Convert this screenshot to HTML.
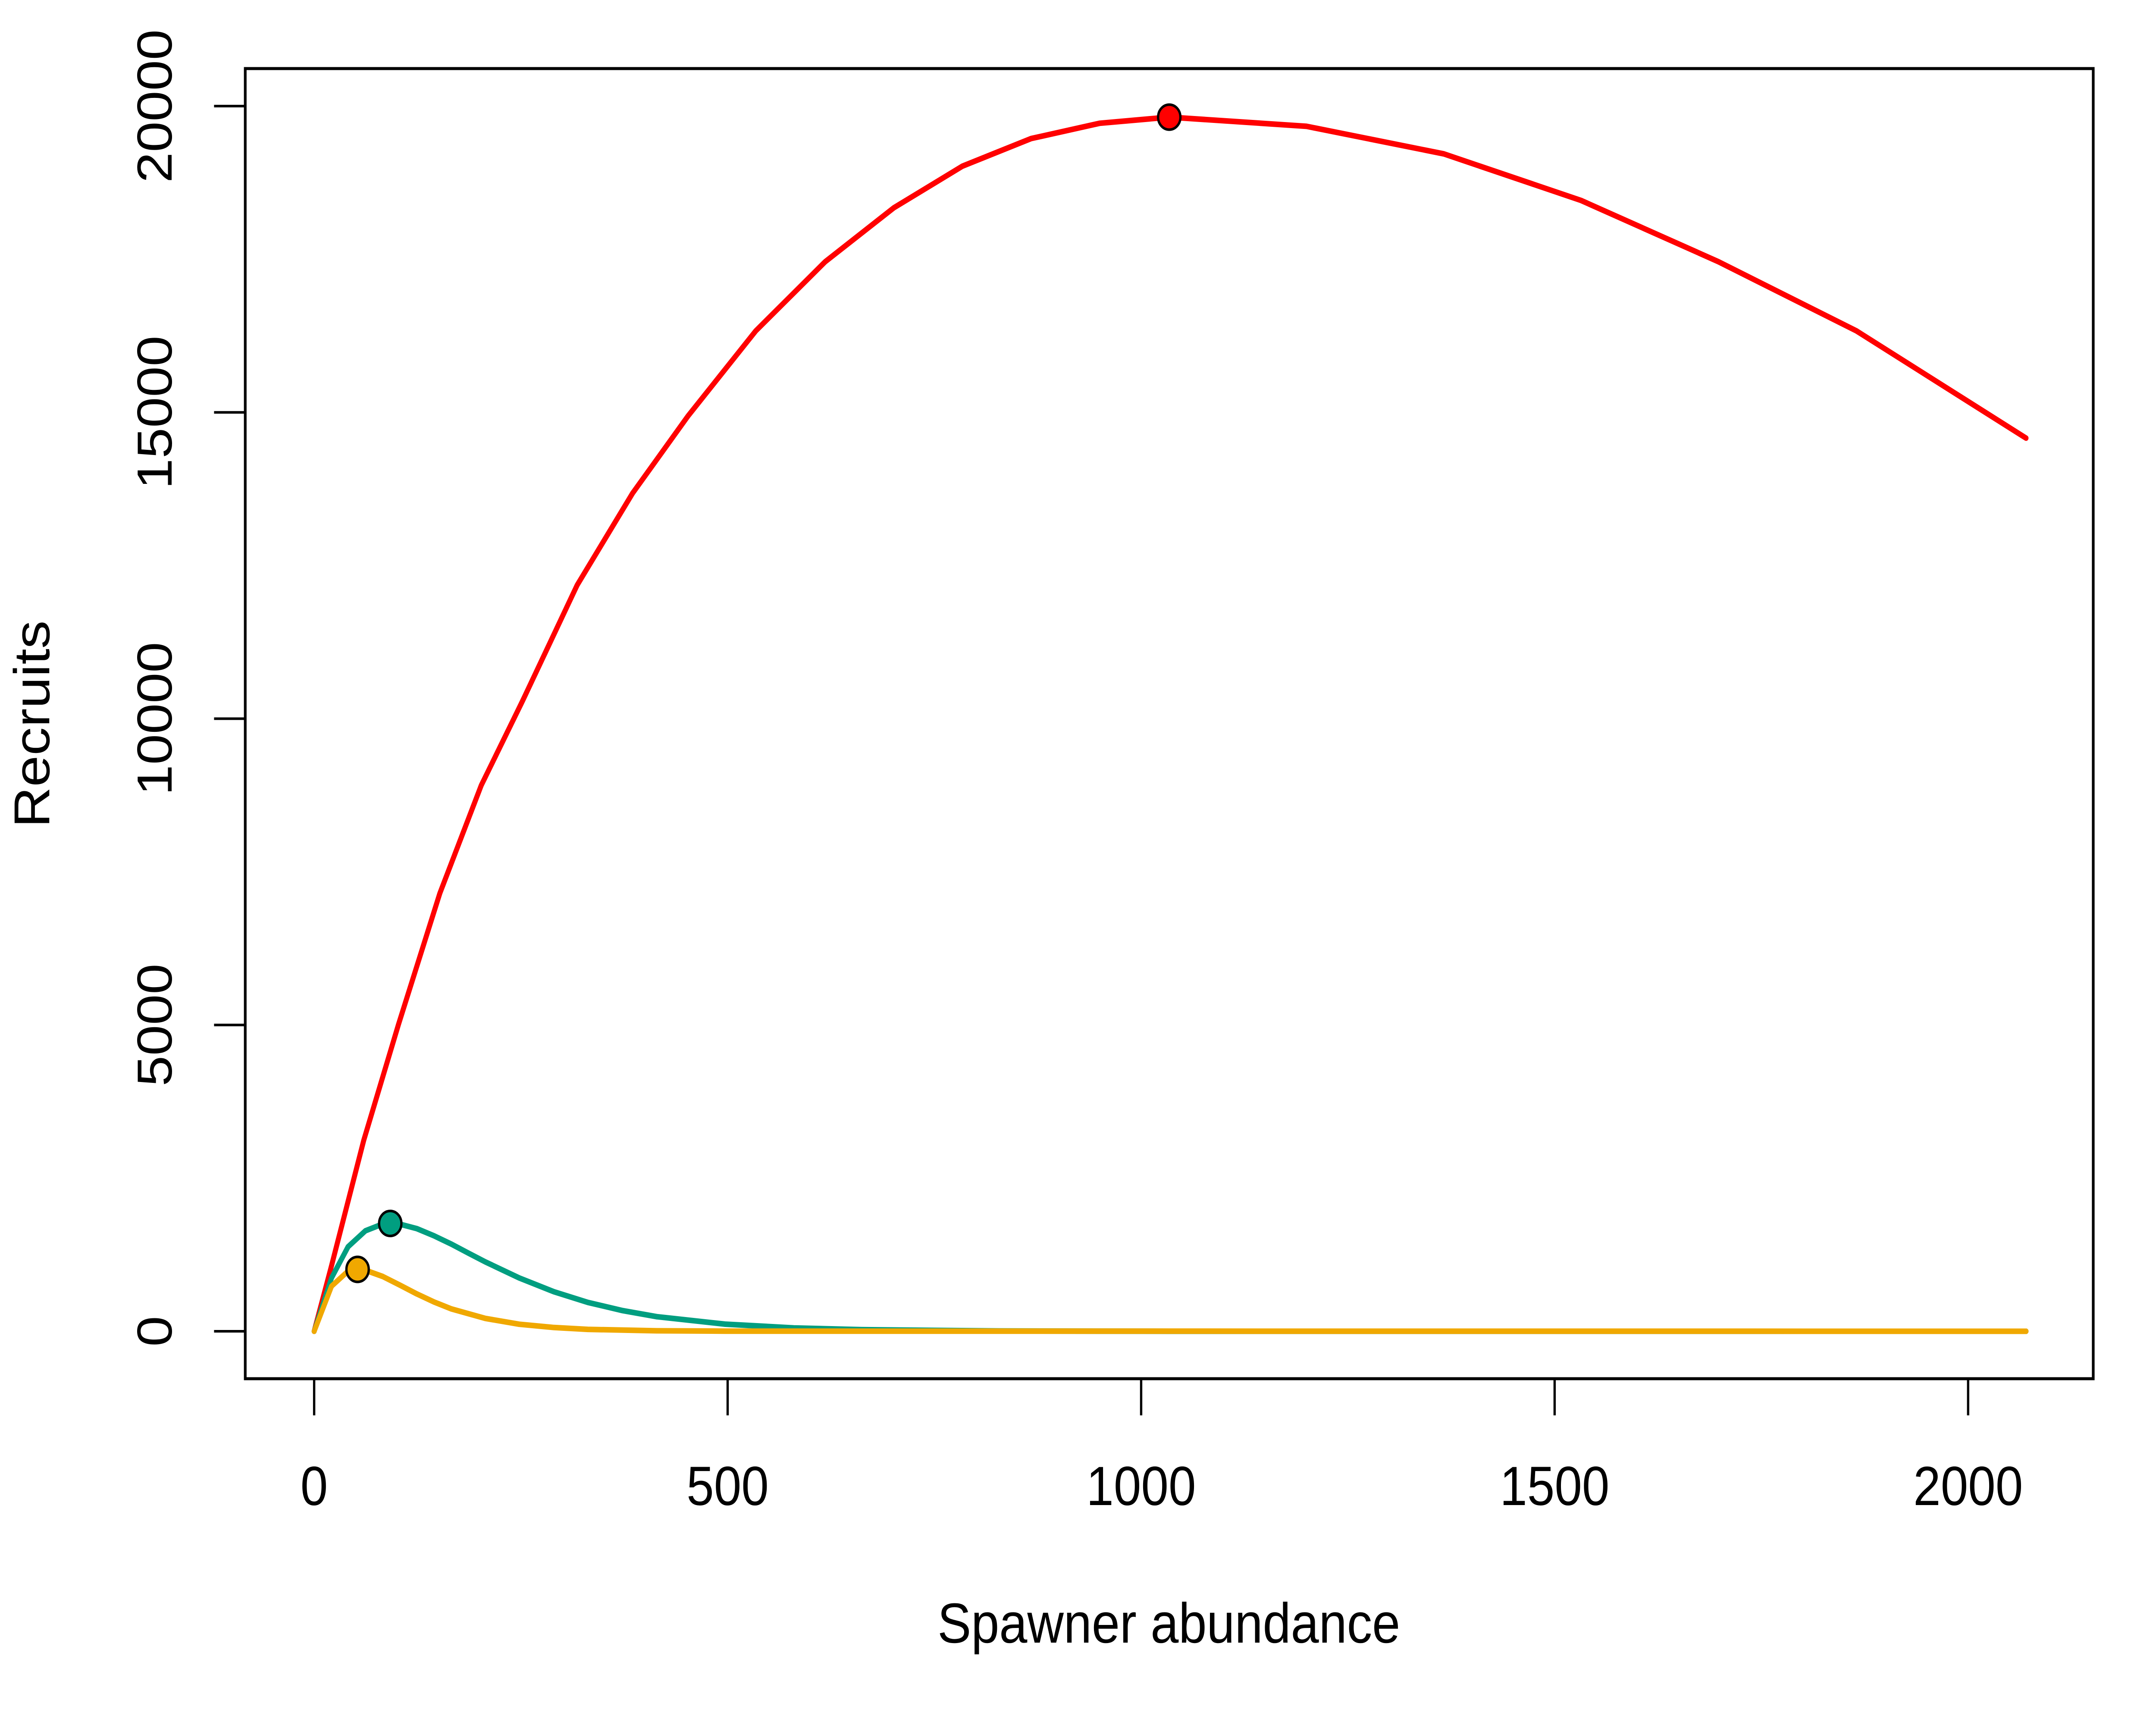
<!DOCTYPE html>
<html><head><meta charset="utf-8"><style>
html,body{margin:0;padding:0;background:#fff;width:100%;height:100%;overflow:hidden;}
svg{display:block;width:100vw;height:100vh;}
text{font-family:"Liberation Sans",Arial,sans-serif;fill:#000;}
</style></head><body>
<svg id="chart" viewBox="0 0 5600 4000" preserveAspectRatio="none" xmlns="http://www.w3.org/2000/svg">
<rect x="0" y="0" width="5600" height="4000" fill="#fff"/>
<g id="series"></g>
<g id="axes"></g>
<rect x="637" y="159" width="4800" height="3038" fill="none" stroke="#000" stroke-width="7"/>
<text x="3036" y="3809" font-size="131" text-anchor="middle">Spawner abundance</text>
<text x="0" y="0" font-size="131" text-anchor="middle" transform="translate(128,1679) rotate(-90)">Recruits</text>
</svg>
<script>
const xTicks = [0, 500, 1000, 1500, 2000];
const yTicks = [0, 5000, 10000, 15000, 20000];
const redX = [0, 21, 60, 102, 152, 202, 252, 318, 385, 452, 534, 618, 701, 784, 867, 950, 1034, 1200, 1366, 1532, 1698, 1865, 2070];
const redY = [0, 1070, 3120, 5010, 7150, 8910, 10290, 12180, 13680, 14940, 16330, 17460, 18340, 19020, 19470, 19720, 19820, 19670, 19220, 18460, 17460, 16330, 14580];
const tealX = [0, 21, 41, 62, 83, 104, 124, 145, 166, 186, 207, 248, 290, 331, 373, 414, 497, 580, 662, 828, 1035, 2070];
const tealY = [0, 870, 1380, 1640, 1752, 1747, 1676, 1558, 1422, 1279, 1133, 870, 645, 471, 337, 239, 116, 55, 26, 5, 0, 0];
const orangeX = [0, 21, 41, 62, 83, 104, 124, 145, 166, 207, 248, 290, 331, 414, 497, 2070];
const orangeY = [0, 736, 982, 996, 894, 751, 610, 478, 365, 210, 115, 61, 31, 8, 2, 0];
const peakX = [1034, 92, 52.5];
const peakY = [19820, 1760, 1010];
const seriesColors = ['#FF0000', '#009E80', '#F0A800'];

const NS = 'http://www.w3.org/2000/svg';
function sx(v){ return 816 + v * (4296/2000); }
function sy(v){ return 3087 - v * (2841/20000); }
const axes = document.getElementById('axes');
const series = document.getElementById('series');
function mk(tag, attrs, parent){ const e=document.createElementNS(NS,tag); for(const k in attrs) e.setAttribute(k,attrs[k]); parent.appendChild(e); return e; }

xTicks.forEach(t=>{
  const l = mk('line',{x1:sx(t),x2:sx(t),y1:3197,y2:3282,stroke:'#000','stroke-width':6},axes);
  
  
  const tx = mk('text',{x:sx(t),y:3490,'font-size':128,'text-anchor':'middle'},axes);
  tx.textContent = t;
  
  
});
yTicks.forEach(t=>{
  const l = mk('line',{x1:556,x2:637,y1:sy(t),y2:sy(t),stroke:'#000','stroke-width':6},axes);
  
  
  const tx = mk('text',{x:0,y:0,'font-size':128,'text-anchor':'middle',transform:'translate(446,'+sy(t)+') rotate(-90)'},axes);
  tx.textContent = t;
  
  
});
const allX=[redX,tealX,orangeX], allY=[redY,tealY,orangeY], names=['red-curve','teal-curve','orange-curve'];
for(let i=0;i<3;i++){
  const pts = allX[i].map((x,j)=>sx(x).toFixed(1)+','+sy(allY[i][j]).toFixed(1)).join(' ');
  const p = mk('polyline',{points:pts,fill:'none',stroke:seriesColors[i],'stroke-width':13,'stroke-linejoin':'round','stroke-linecap':'round'},series);
  
  
}
for(let i=0;i<3;i++){
  const c = mk('circle',{cx:sx(peakX[i]),cy:sy(peakY[i]),r:29,fill:seriesColors[i],stroke:'#000','stroke-width':6},series);
  
  
}
</script>
</body></html>
